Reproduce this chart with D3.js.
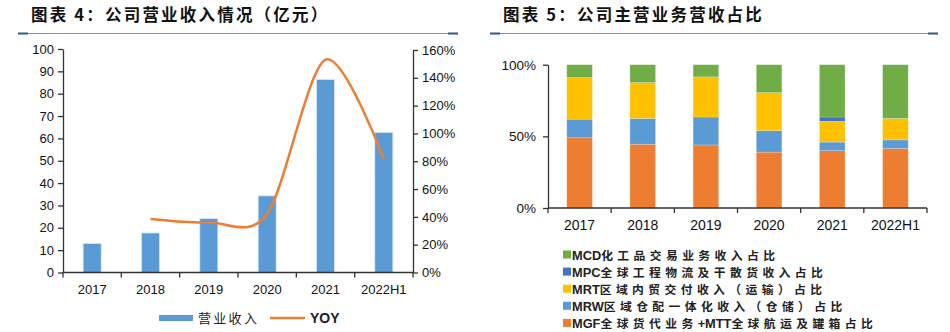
<!DOCTYPE html>
<html><head><meta charset="utf-8">
<script src="https://cdn.jsdelivr.net/npm/d3@7"></script>
<style>
body{margin:0;background:#fff;}
svg{display:block;font-family:"Liberation Sans",Arial,sans-serif;}
</style></head><body>
<svg id="c" width="950" height="332"></svg>
<script>
// ---------- data ----------
const years = ["2017","2018","2019","2020","2021","2022H1"];
const revenue = [13.0, 17.7, 24.2, 34.3, 86.4, 62.7];
const yoy = [null, 0.385, 0.36, 0.42, 1.53, 0.815];
const leftTicks = [0,10,20,30,40,50,60,70,80,90,100];
const rightTicks = [0,0.2,0.4,0.6,0.8,1.0,1.2,1.4,1.6];

const mgf = [0.49, 0.445, 0.44, 0.39, 0.40, 0.415];
const mrw = [0.13, 0.18, 0.195, 0.15, 0.06, 0.06];
const mrt = [0.29, 0.25, 0.28, 0.265, 0.145, 0.15];
const mpc = [0, 0, 0, 0, 0.03, 0];
const mcd = [0.09, 0.125, 0.085, 0.195, 0.365, 0.375];
const shareTicks = [0, 0.5, 1];
const seriesNames = ["MGF全球货代业务+MTT全球航运及罐箱占比","MRW区域仓配一体化收入（仓储）占比","MRT区域内贸交付收入（运输）占比","MPC全球工程物流及干散货收入占比","MCD化工品交易业务收入占比"];
const seriesColors = ["#ED7D31","#5B9BD5","#FFC000","#4472C4","#70AD47"];

const svg = d3.select("#c");
const cjk = '"Noto Sans CJK SC","Liberation Sans",sans-serif';
const latinCond = '"Liberation Sans Narrow","Liberation Sans",Arial,sans-serif';

// mixed text: latin runs narrow w/o spacing, CJK runs with letter spacing
function mixedText(sel, str, size, latinSize, spacing, bold){
  const runs = str.match(/[A-Za-z0-9+]+|[^A-Za-z0-9+]+/g);
  runs.forEach(r=>{
    const latin = /^[A-Za-z0-9+]+$/.test(r);
    sel.append("tspan").attr("font-family", latin ? latinCond : cjk)
      .attr("font-weight", bold ? "bold" : "normal")
      .attr("font-size", latin ? latinSize : size)
      .attr("letter-spacing", latin ? 0 : spacing).text(r);
  });
}

// ---------- titles ----------
function title(x, text, x1, x2, sp){
  svg.append("text").attr("x",x).attr("y",21).attr("font-size",16.5).attr("font-weight","bold")
    .attr("font-family",cjk).attr("letter-spacing",sp).attr("fill","#111").text(text);
  svg.append("line").attr("x1",x1).attr("x2",x2).attr("y1",33.5).attr("y2",33.5).attr("stroke","#6f95cf").attr("stroke-width",1);
  svg.append("line").attr("x1",x1).attr("x2",x1+10).attr("y1",33.5).attr("y2",33.5).attr("stroke","#2f5597").attr("stroke-width",2);
  svg.append("line").attr("x1",x2-10).attr("x2",x2).attr("y1",33.5).attr("y2",33.5).attr("stroke","#2f5597").attr("stroke-width",2);
}
title(31, "图表 4：公司营业收入情况（亿元）", 18, 458, 2.2);
title(503, "图表 5：公司主营业务营收占比", 490, 938, 2.2);

// ---------- left chart ----------
const L = {l:63, r:413, t:49, b:272.5};
const x1 = d3.scaleBand().domain(years).range([L.l, L.r]).paddingInner(0.69).paddingOuter(0.345);
const yL = d3.scaleLinear().domain([0,100]).range([L.b, L.t]);
const yR = d3.scaleLinear().domain([0,1.6]).range([L.b, L.t+1]);

const gL = svg.append("g");
gL.selectAll("rect.bar").data(years).join("rect").attr("class","bar")
  .attr("x",d=>x1(d)).attr("width",x1.bandwidth())
  .attr("y",(d,i)=>yL(revenue[i])).attr("height",(d,i)=>L.b-yL(revenue[i]))
  .attr("fill","#5B9BD5").attr("stroke","#dbe8f5").attr("stroke-width",0.8);

function styleAxis(g){
  g.select(".domain").attr("stroke","#333").attr("stroke-width",1.3);
  g.selectAll(".tick line").attr("stroke","#333").attr("stroke-width",1.3);
  g.selectAll(".tick text").attr("fill","#111").attr("font-size",13).attr("font-family",'"Liberation Sans",Arial,sans-serif');
}
const axL = gL.append("g").attr("transform",`translate(${L.l},0)`)
  .call(d3.axisLeft(yL).tickValues(leftTicks).tickSize(5).tickPadding(4).tickSizeOuter(0));
styleAxis(axL);
const axR = gL.append("g").attr("transform",`translate(${L.r},0)`)
  .call(d3.axisRight(yR).tickValues(rightTicks).tickFormat(d3.format(".0%")).tickSize(5).tickPadding(4).tickSizeOuter(0));
styleAxis(axR);
const step1 = x1.step();
const xb = gL.append("g");
xb.append("line").attr("x1",L.l).attr("x2",L.r).attr("y1",L.b).attr("y2",L.b).attr("stroke","#333").attr("stroke-width",1.3);
xb.selectAll("line.t").data(d3.range(years.length+1)).join("line").attr("class","t")
  .attr("x1",i=>L.l+i*step1).attr("x2",i=>L.l+i*step1).attr("y1",L.b).attr("y2",L.b+5)
  .attr("stroke","#333").attr("stroke-width",1.3);
xb.selectAll("text").data(years).join("text")
  .attr("x",d=>x1(d)+x1.bandwidth()/2).attr("y",294).attr("text-anchor","middle")
  .attr("font-size",13).attr("fill","#111").text(d=>d);

// YOY line
const lineData = years.map((d,i)=>({x:x1(d)+x1.bandwidth()/2, v:yoy[i]})).filter(d=>d.v!==null);
gL.append("path").datum(lineData)
  .attr("d", d3.line().x(d=>d.x).y(d=>yR(d.v)).curve(d3.curveCardinal.tension(0.1)))
  .attr("fill","none").attr("stroke","#ED7D31").attr("stroke-width",2.5);

// left legend
const lg = svg.append("g");
lg.append("rect").attr("x",159).attr("y",315).attr("width",34).attr("height",6).attr("fill","#5B9BD5");
lg.append("text").attr("x",198).attr("y",323).attr("font-size",13).attr("letter-spacing",2.3).attr("font-family",cjk).attr("fill","#222").text("营业收入");
lg.append("line").attr("x1",270).attr("x2",305).attr("y1",318).attr("y2",318).attr("stroke","#ED7D31").attr("stroke-width",2.5);
lg.append("text").attr("x",310).attr("y",323).attr("font-size",14).attr("font-weight","bold").attr("font-family",latinCond).attr("fill","#222").text("YOY");

// ---------- right chart ----------
const R = {l:548, r:927, t:64.7, b:208};
const x2 = d3.scaleBand().domain(years).range([R.l, R.r]).paddingInner(0.595).paddingOuter(0.2975);
const y2 = d3.scaleLinear().domain([0,1]).range([R.b, R.t]);
const seriesVals = [mgf, mrw, mrt, mpc, mcd];
const table = years.map((y,i)=>{ const o={year:y}; seriesVals.forEach((s,k)=>o["s"+k]=s[i]); return o;});
const keys = seriesVals.map((s,k)=>"s"+k);
const stacked = d3.stack().keys(keys)(table);
const gR = svg.append("g");
gR.selectAll("g.layer").data(stacked).join("g").attr("class","layer").attr("fill",(d,k)=>seriesColors[k])
  .selectAll("rect").data(d=>d.filter(e=>e[1]-e[0]>0)).join("rect")
  .attr("x",d=>x2(d.data.year)).attr("width",x2.bandwidth())
  .attr("y",d=>y2(d[1])).attr("height",d=>y2(d[0])-y2(d[1]))
  .attr("stroke","#ffffff").attr("stroke-opacity",0.35).attr("stroke-width",0.6);

const ax2 = gR.append("g").attr("transform",`translate(${R.l},0)`)
  .call(d3.axisLeft(y2).tickValues(shareTicks).tickFormat(d3.format(".0%")).tickSize(5).tickPadding(7).tickSizeOuter(0));
styleAxis(ax2);
ax2.selectAll(".tick text").attr("font-size",13.5);
const step2 = x2.step();
const xb2 = gR.append("g");
xb2.append("line").attr("x1",R.l).attr("x2",R.r).attr("y1",R.b).attr("y2",R.b).attr("stroke","#333").attr("stroke-width",1.3);
xb2.selectAll("line.t").data(d3.range(years.length+1)).join("line").attr("class","t")
  .attr("x1",i=>R.l+i*step2).attr("x2",i=>R.l+i*step2).attr("y1",R.b).attr("y2",R.b+5)
  .attr("stroke","#333").attr("stroke-width",1.3);
xb2.selectAll("text").data(years).join("text")
  .attr("x",d=>x2(d)+x2.bandwidth()/2).attr("y",230).attr("text-anchor","middle")
  .attr("font-size",14).attr("fill","#111").text(d=>d);

// right legend (top to bottom: MCD, MPC, MRT, MRW, MGF)
const legOrder = [4,3,2,1,0];
const lg2 = svg.append("g");
legOrder.forEach((k,j)=>{
  const base = 259.5 + j*17.1;
  lg2.append("rect").attr("x",563).attr("y",base-9).attr("width",8).attr("height",8).attr("fill",seriesColors[k]);
  const t = lg2.append("text").attr("x",572).attr("y",base).attr("fill","#222");
  mixedText(t, seriesNames[k], 11.8, 12.8, 4.4, true);
});
</script>
</body></html>
